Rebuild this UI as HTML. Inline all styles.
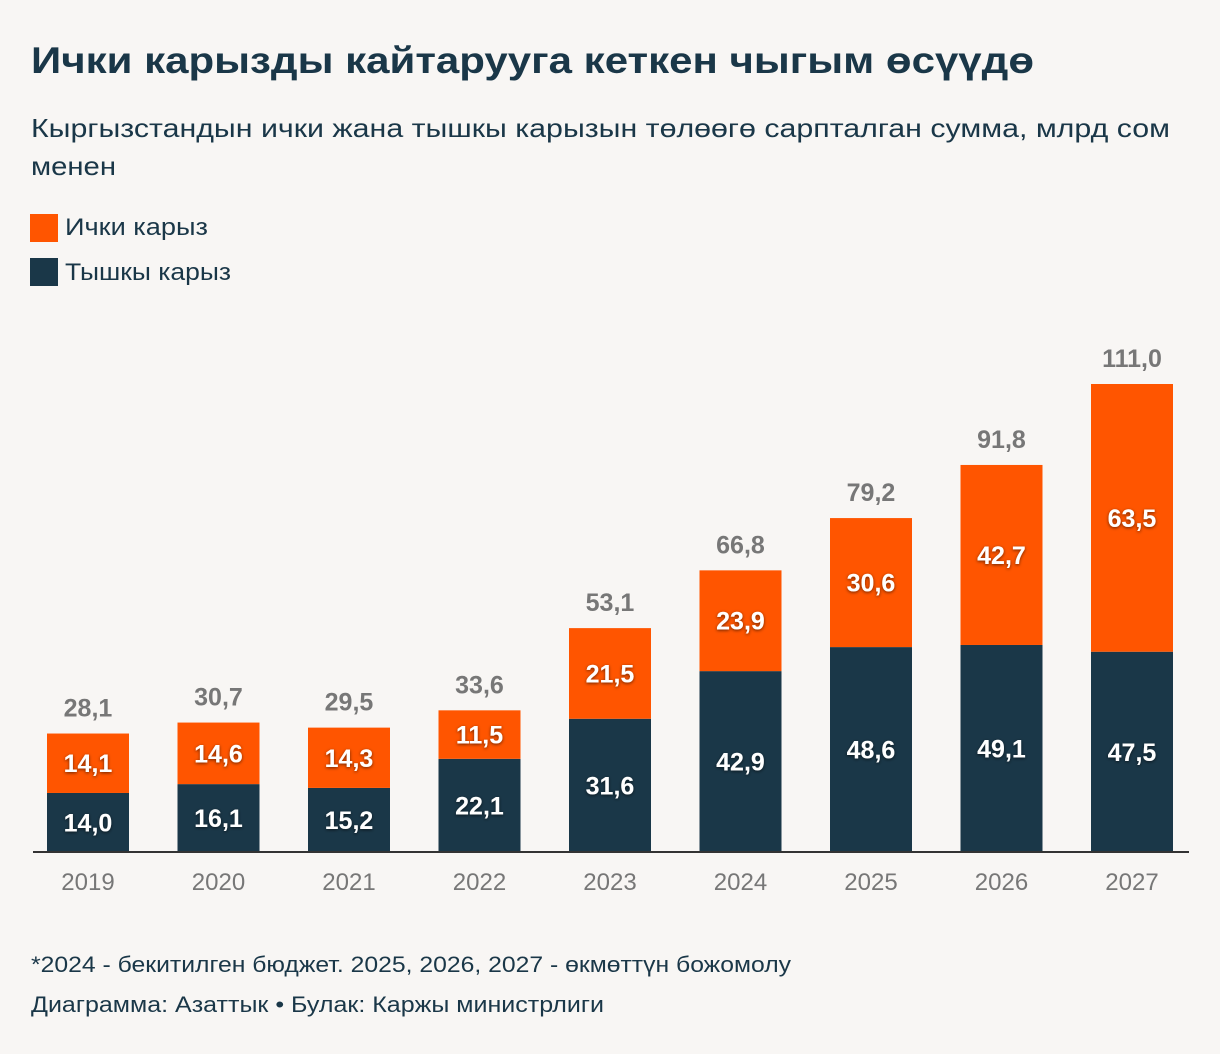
<!DOCTYPE html>
<html><head><meta charset="utf-8"><style>
html,body{margin:0;padding:0;background:#f8f6f4}
svg{display:block;font-family:"Liberation Sans","DejaVu Sans",sans-serif}
</style></head><body>
<svg id="c" width="1220" height="1054" viewBox="0 0 1220 1054">
<defs><filter id="sh" x="-20%" y="-20%" width="140%" height="140%"><feDropShadow dx="0" dy="1" stdDeviation="1.5" flood-color="#000" flood-opacity="0.6"/></filter></defs>
<rect width="1220" height="1054" fill="#f8f6f4"/>
<text x="31" y="73" font-size="37" font-weight="bold" fill="#1a3748" textLength="1003" lengthAdjust="spacingAndGlyphs">Ички карызды кайтарууга кеткен чыгым өсүүдө</text>
<text x="31" y="137" font-size="26" fill="#1a3748" textLength="1139" lengthAdjust="spacingAndGlyphs">Кыргызстандын ички жана тышкы карызын төлөөгө сарпталган сумма, млрд сом</text>
<text x="31" y="175" font-size="26" fill="#1a3748" textLength="85" lengthAdjust="spacingAndGlyphs">менен</text>
<rect x="30" y="214" width="28" height="28" fill="#ff5500"/>
<text x="65" y="235" font-size="24" fill="#1a3748" textLength="143" lengthAdjust="spacingAndGlyphs">Ички карыз</text>
<rect x="30" y="258" width="28" height="28" fill="#1a3748"/>
<text x="65" y="280" font-size="24" fill="#1a3748" textLength="166" lengthAdjust="spacingAndGlyphs">Тышкы карыз</text>
<g id="bars"></g>
<line x1="33" y1="852" x2="1189" y2="852" stroke="#333" stroke-width="2"/>
<text x="31" y="972" font-size="22" fill="#1a3748" textLength="760" lengthAdjust="spacingAndGlyphs">*2024 - бекитилген бюджет. 2025, 2026, 2027 - өкмөттүн божомолу</text>
<text x="31" y="1012" font-size="22" fill="#1a3748" textLength="573" lengthAdjust="spacingAndGlyphs">Диаграмма: Азаттык • Булак: Каржы министрлиги</text>
</svg>
<script>
const years=["2019","2020","2021","2022","2023","2024","2025","2026","2027"];
const external=[14.0,16.1,15.2,22.1,31.6,42.9,48.6,49.1,47.5];
const internal=[14.1,14.6,14.3,11.5,21.5,23.9,30.6,42.7,63.5];
const totals=[28.1,30.7,29.5,33.6,53.1,66.8,79.2,91.8,111.0];
const NS="http://www.w3.org/2000/svg";
const g=document.getElementById('bars');
const base=852,scale=468/111,x0=47,step=130.5,bw=82;
const y=v=>base-v*scale;
const fmt=v=>v.toFixed(1).replace('.',',');
function mk(t,a){const e=document.createElementNS(NS,t);for(const k in a)e.setAttribute(k,a[k]);g.appendChild(e);return e;}
years.forEach((yr,i)=>{
 const x=x0+i*step;
 const e=external[i],n=internal[i];
 const r1=mk('rect',{x:x,y:y(e),width:bw,height:base-y(e),fill:'#1a3748'});
 
 
 const r2=mk('rect',{x:x,y:y(e+n),width:bw,height:y(e)-y(e+n),fill:'#ff5500'});
 
 
 const cx=x+bw/2;
 const t1=mk('text',{x:cx,y:(y(e)+base)/2+9,'font-size':25,'font-weight':'bold',fill:'#fff','text-anchor':'middle',filter:'url(#sh)'});
 t1.textContent=fmt(e);
 
 
 const t2=mk('text',{x:cx,y:(y(e+n)+y(e))/2+9,'font-size':25,'font-weight':'bold',fill:'#fff','text-anchor':'middle',filter:'url(#sh)'});
 t2.textContent=fmt(n);
 
 
 const t3=mk('text',{x:cx,y:y(totals[i])-17,'font-size':25,'font-weight':'bold',fill:'#777','text-anchor':'middle'});
 t3.textContent=fmt(totals[i]);
 
 
 const t4=mk('text',{x:cx,y:890,'font-size':24,fill:'#777','text-anchor':'middle'});
 t4.textContent=yr;
 
 
});
</script>
</body></html>
